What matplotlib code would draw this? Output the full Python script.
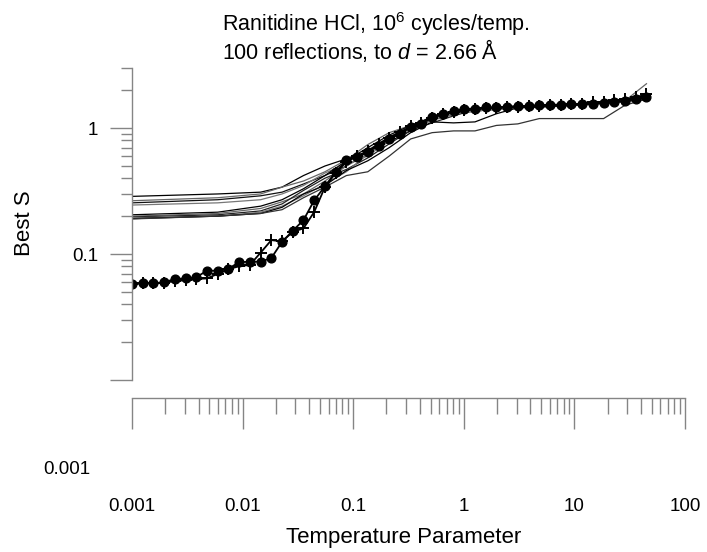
"""Best S vs temperature parameter, Ranitidine HCl run set."""
import matplotlib

matplotlib.use("Agg")
import matplotlib.pyplot as plt
from matplotlib.ticker import FuncFormatter, LogLocator, NullFormatter

plt.rcParams["font.family"] = ["Liberation Sans", "DejaVu Sans"]
plt.rcParams["mathtext.fontset"] = "custom"
plt.rcParams["mathtext.rm"] = "Liberation Sans"
plt.rcParams["mathtext.it"] = "Liberation Sans:italic"

# temperature schedule (ratio 1.25 between steps)
TEMPS = [
    0.001, 0.00125, 0.00156, 0.00195, 0.00244, 0.00305, 0.00381, 0.00477,
    0.00596, 0.00745, 0.00931, 0.01164, 0.01455, 0.01819, 0.02274, 0.02842,
    0.03553, 0.04441, 0.05551, 0.06939, 0.08674, 0.1084, 0.1355, 0.1694,
    0.2118, 0.2647, 0.3309, 0.4136, 0.5170, 0.6463, 0.8078, 1.0097,
    1.2622, 1.5777, 1.9722, 2.4652, 3.0815, 3.8519, 4.8149, 6.0186,
    7.5232, 9.4040, 11.755, 14.694, 18.367, 22.959, 28.699, 35.873, 44.842,
]

BEST_S_CIRCLE = [
    0.058, 0.0588, 0.0588, 0.0595, 0.0635, 0.064, 0.0655, 0.0738,
    0.0738, 0.0766, 0.0861, 0.087, 0.087, 0.093, 0.125, 0.153,
    0.186, 0.267, 0.345, 0.447, 0.553, 0.588, 0.644, 0.727,
    0.82, 0.90, 1.015, 1.08, 1.22, 1.29, 1.37, 1.42,
    1.43, 1.46, 1.46, 1.47, 1.50, 1.50, 1.52, 1.53,
    1.53, 1.54, 1.55, 1.56, 1.58, 1.60, 1.65, 1.70, 1.75,
]

BEST_S_PLUS = [
    0.058, 0.0585, 0.0585, 0.059, 0.061, 0.062, 0.0635, 0.064,
    0.0697, 0.0758, 0.080, 0.082, 0.1025, 0.129, 0.126, 0.150,
    0.160, 0.216, 0.340, 0.440, 0.540, 0.600, 0.660, 0.750,
    0.84, 0.93, 1.03, 1.10, 1.20, 1.30, 1.35, 1.40,
    1.42, 1.44, 1.45, 1.46, 1.48, 1.50, 1.50, 1.52,
    1.52, 1.55, 1.56, 1.60, 1.62, 1.66, 1.70, 1.75, 1.85,
]

# the other runs, read at every second temperature step from 0.00596 up
THIN_TEMPS = [
    0.001, 0.00596, 0.01455, 0.02274, 0.03553, 0.05551, 0.08674, 0.1355,
    0.2118, 0.3309, 0.5170, 0.8078, 1.2622, 1.9722, 3.0815, 4.8149,
    7.5232, 11.755, 18.367, 28.699, 44.842,
]
THIN_RUNS = [
    [0.287, 0.300, 0.310, 0.34, 0.42, 0.50, 0.57, 0.64, 0.78, 0.95, 1.18,
     1.30, 1.38, 1.42, 1.45, 1.48, 1.50, 1.55, 1.60, 1.62, 1.70],
    [0.265, 0.280, 0.300, 0.34, 0.38, 0.45, 0.56, 0.74, 0.92, 1.05, 1.20,
     1.33, 1.40, 1.45, 1.50, 1.52, 1.55, 1.56, 1.58, 1.65, 2.25],
    [0.255, 0.270, 0.290, 0.31, 0.36, 0.42, 0.50, 0.65, 0.85, 1.00, 1.25,
     1.35, 1.36, 1.42, 1.46, 1.50, 1.52, 1.55, 1.62, 1.68, 1.80],
    [0.245, 0.255, 0.270, 0.30, 0.35, 0.44, 0.52, 0.60, 0.80, 1.02, 1.22,
     1.30, 1.38, 1.40, 1.45, 1.47, 1.49, 1.52, 1.57, 1.62, 1.70],
    [0.205, 0.215, 0.240, 0.27, 0.33, 0.42, 0.55, 0.70, 0.88, 1.05, 1.22,
     1.32, 1.40, 1.44, 1.47, 1.50, 1.52, 1.54, 1.58, 1.63, 1.75],
    [0.200, 0.210, 0.230, 0.26, 0.30, 0.38, 0.50, 0.62, 0.82, 0.98, 1.15,
     1.28, 1.36, 1.43, 1.48, 1.49, 1.53, 1.55, 1.57, 1.62, 1.68],
    [0.197, 0.205, 0.220, 0.25, 0.32, 0.40, 0.47, 0.58, 0.75, 0.96, 1.10,
     1.25, 1.40, 1.45, 1.48, 1.50, 1.51, 1.56, 1.60, 1.64, 1.72],
    [0.194, 0.200, 0.215, 0.24, 0.29, 0.36, 0.45, 0.62, 0.86, 1.00, 1.18,
     1.30, 1.37, 1.41, 1.46, 1.48, 1.53, 1.55, 1.60, 1.66, 1.78],
    [0.191, 0.200, 0.210, 0.235, 0.30, 0.35, 0.46, 0.55, 0.70, 0.92, 1.12,
     1.10, 1.12, 1.30, 1.45, 1.47, 1.50, 1.53, 1.58, 1.65, 1.85],
    [0.190, 0.200, 0.210, 0.225, 0.28, 0.34, 0.42, 0.45, 0.60, 0.82, 0.92,
     0.95, 0.95, 1.05, 1.08, 1.19, 1.19, 1.19, 1.19, 1.52, 1.70],
]
THIN_COLORS = ["#000000", "#666666", "#111111", "#777777", "#000000",
               "#666666", "#222222", "#777777", "#000000", "#333333"]

W, H = 707, 552
AX_LEFT, AX_RIGHT, AX_TOP, AX_BOTTOM = 132, 685, 68, 380
GREY = "#858585"
PX = 0.72  # points per pixel at dpi 100


def main():
    fig = plt.figure(figsize=(W / 100, H / 100), dpi=100)
    ax = fig.add_axes([AX_LEFT / W, 1 - AX_BOTTOM / H,
                       (AX_RIGHT - AX_LEFT) / W, (AX_BOTTOM - AX_TOP) / H])
    ax.set_xscale("log")
    ax.set_yscale("log")
    ax.set_xlim(0.001, 100)
    ax.set_ylim(0.01, 3)

    for vals, col in zip(THIN_RUNS, THIN_COLORS):
        ax.plot(THIN_TEMPS, vals, color=col, lw=0.9)
    ax.plot(TEMPS, BEST_S_PLUS, color="black", lw=1.3, marker="+", ms=8, mew=1.4)
    ax.plot(TEMPS, BEST_S_CIRCLE, color="black", lw=1.3, marker="o", ms=6.3)

    for side in ("top", "right"):
        ax.spines[side].set_visible(False)
    for side in ("left", "bottom"):
        ax.spines[side].set_color(GREY)
        ax.spines[side].set_linewidth(1.0)
    ax.spines["bottom"].set_position(("outward", 18 * PX))

    ax.xaxis.set_major_locator(LogLocator(base=10, numticks=20))
    ax.xaxis.set_minor_locator(LogLocator(base=10, subs=range(2, 10), numticks=20))
    ax.xaxis.set_major_formatter(FuncFormatter(lambda v, _: f"{v:g}"))
    ax.xaxis.set_minor_formatter(NullFormatter())
    ax.yaxis.set_major_locator(LogLocator(base=10, numticks=20))
    ax.yaxis.set_minor_locator(LogLocator(base=10, subs=range(2, 10), numticks=20))
    ax.yaxis.set_major_formatter(
        FuncFormatter(lambda v, _: f"{v:g}" if v in (0.1, 1) else ""))
    ax.yaxis.set_minor_formatter(NullFormatter())

    ax.tick_params(axis="x", which="major", direction="out", length=31 * PX,
                   width=1, color=GREY, pad=50, labelsize=13.5)
    ax.tick_params(axis="x", which="minor", direction="out", length=16 * PX,
                   width=1, color=GREY)
    ax.tick_params(axis="y", which="major", direction="out", length=22 * PX,
                   width=1, color=GREY, pad=12 * PX, labelsize=13.5)
    ax.tick_params(axis="y", which="minor", direction="out", length=11 * PX,
                   width=1, color=GREY)

    fig.text(222 / W, 1 - 31 / H, "Ranitidine HCl, 10$^{6}$ cycles/temp.",
             fontsize=15.5, ha="left", va="baseline")
    fig.text(222 / W, 1 - 59 / H, "100 reflections, to $d$ = 2.66 Å",
             fontsize=15.5, ha="left", va="baseline")
    fig.text(25 / W, 1 - 223 / H, "Best S", fontsize=16, rotation=90,
             ha="center", va="center")
    fig.text(404 / W, 1 - 537 / H, "Temperature Parameter", fontsize=16,
             ha="center", va="center")
    fig.text(67 / W, 1 - 470 / H, "0.001", fontsize=13.5, ha="center", va="center")

    fig.savefig("out.png", dpi=100)
    plt.close(fig)


if __name__ == "__main__":
    main()
